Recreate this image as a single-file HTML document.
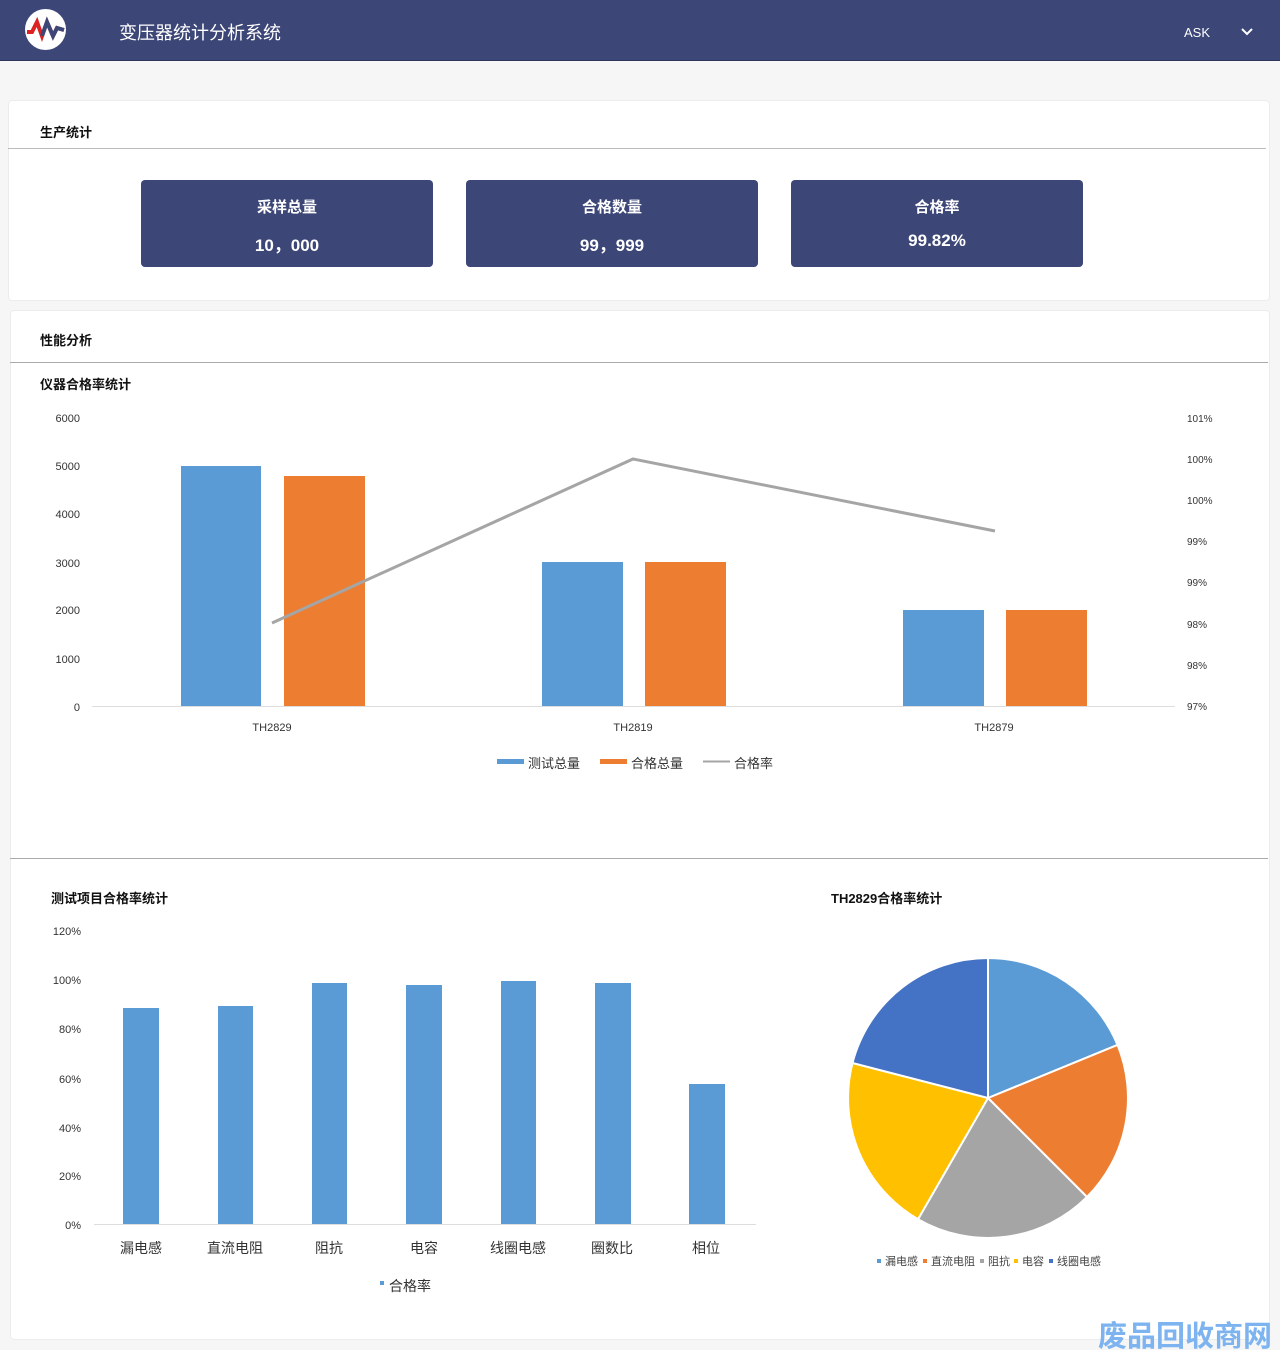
<!DOCTYPE html>
<html><head><meta charset="utf-8"><style>
body{margin:0;width:1280px;height:1350px;background:#f6f6f6;font-family:"Liberation Sans","Noto Sans CJK SC",sans-serif;position:relative;overflow:hidden}
.hdr{position:absolute;left:0;top:0;width:1280px;height:60px;background:#3c4677;border-bottom:1px solid #2e365e}
.card{position:absolute;background:#fff;border:1px solid #ececec;border-radius:4px}
.t{position:absolute;font-size:13px;font-weight:bold;color:#111}
.box{position:absolute;top:180px;width:292px;height:87px;background:#3c4677;border-radius:4px;color:#fff;text-align:center;font-weight:bold}
.box .a{margin-top:16px;font-size:15px}.box .b{margin-top:14px;font-size:17px}
svg text{font-family:"Liberation Sans","Noto Sans CJK SC",sans-serif}
</style></head><body>
<div class="hdr">
<svg style="position:absolute;left:24px;top:9px" width="43" height="41"><circle cx="21.5" cy="20.5" r="20.5" fill="#fff"/><polyline points="3,23 8,23 13,13 18,27 23,13 29,27 33,19 40,21" fill="none" stroke="#d22" stroke-width="4"/><polyline points="18,27 23,13 29,27 33,19 40,21" fill="none" stroke="#3c4677" stroke-width="4"/></svg>
<div style="position:absolute;left:119px;top:19px;color:#fff;font-size:18px">变压器统计分析系统</div>
<div style="position:absolute;left:1184px;top:25px;color:#fff;font-size:13px">ASK</div>
<svg style="position:absolute;left:1240px;top:27px" width="14" height="10"><polyline points="2,2 7,7 12,2" fill="none" stroke="#fff" stroke-width="2"/></svg>
</div>
<div class="card" style="left:8px;top:100px;width:1260px;height:199px"></div>
<div style="position:absolute;left:8px;top:148px;width:1258px;height:1px;background:#bbb"></div>
<div class="t" style="left:40px;top:122px">生产统计</div>
<div class="box" style="left:141px"><div class="a">采样总量</div><div class="b">10，000</div></div>
<div class="box" style="left:466px"><div class="a">合格数量</div><div class="b">99，999</div></div>
<div class="box" style="left:791px"><div class="a">合格率</div><div class="b">99.82%</div></div>
<div class="card" style="left:10px;top:310px;width:1258px;height:1028px"></div>
<div style="position:absolute;left:10px;top:362px;width:1258px;height:1px;background:#aaa"></div>
<div style="position:absolute;left:10px;top:858px;width:1258px;height:1px;background:#aaa"></div>
<div class="t" style="left:40px;top:330px">性能分析</div>
<div class="t" style="left:40px;top:374px">仪器合格率统计</div>
<div class="t" style="left:51px;top:888px">测试项目合格率统计</div>
<div class="t" style="left:831px;top:888px">TH2829合格率统计</div>
<svg style="position:absolute;left:0;top:0" width="1280" height="1350">
<g font-size="11" fill="#333" text-anchor="end">
<text x="80" y="422">6000</text><text x="80" y="470">5000</text><text x="80" y="518">4000</text><text x="80" y="567">3000</text><text x="80" y="614">2000</text><text x="80" y="663">1000</text><text x="80" y="711">0</text>
</g>
<g font-size="10" fill="#333">
<text x="1187" y="422">101%</text><text x="1187" y="463">100%</text><text x="1187" y="504">100%</text><text x="1187" y="545">99%</text><text x="1187" y="586">99%</text><text x="1187" y="628">98%</text><text x="1187" y="669">98%</text><text x="1187" y="710">97%</text>
</g>
<line x1="92" y1="706.5" x2="1175" y2="706.5" stroke="#ddd"/>
<rect x="181" y="466" width="80" height="240" fill="#5b9bd5"/><rect x="284" y="476" width="81" height="230" fill="#ed7d31"/>
<rect x="542" y="562" width="81" height="144" fill="#5b9bd5"/><rect x="645" y="562" width="81" height="144" fill="#ed7d31"/>
<rect x="903" y="610" width="81" height="96" fill="#5b9bd5"/><rect x="1006" y="610" width="81" height="96" fill="#ed7d31"/>
<polyline points="272,623 633,459 995,531" fill="none" stroke="#a5a5a5" stroke-width="3"/>
<g font-size="11" fill="#333" text-anchor="middle"><text x="272" y="731">TH2829</text><text x="633" y="731">TH2819</text><text x="994" y="731">TH2879</text></g>
<rect x="497" y="759" width="27" height="5" fill="#5b9bd5"/><text x="528" y="768" font-size="13" fill="#333">测试总量</text>
<rect x="600" y="759" width="27" height="5" fill="#ed7d31"/><text x="631" y="768" font-size="13" fill="#333">合格总量</text>
<line x1="703" y1="761.5" x2="730" y2="761.5" stroke="#a5a5a5" stroke-width="2"/><text x="734" y="768" font-size="13" fill="#333">合格率</text>
<g font-size="11" fill="#333" text-anchor="end">
<text x="81" y="935">120%</text><text x="81" y="984">100%</text><text x="81" y="1033">80%</text><text x="81" y="1083">60%</text><text x="81" y="1132">40%</text><text x="81" y="1180">20%</text><text x="81" y="1229">0%</text>
</g>
<line x1="94" y1="1224.5" x2="756" y2="1224.5" stroke="#ddd"/>
<g fill="#5b9bd5">
<rect x="123" y="1008" width="36" height="216"/><rect x="218" y="1006" width="35" height="218"/><rect x="312" y="983" width="35" height="241"/><rect x="406" y="985" width="36" height="239"/><rect x="501" y="981" width="35" height="243"/><rect x="595" y="983" width="36" height="241"/><rect x="689" y="1084" width="36" height="140"/>
</g>
<g font-size="14" fill="#333" text-anchor="middle">
<text x="141" y="1253">漏电感</text><text x="235" y="1253">直流电阻</text><text x="329" y="1253">阻抗</text><text x="424" y="1253">电容</text><text x="518" y="1253">线圈电感</text><text x="612" y="1253">圈数比</text><text x="706" y="1253">相位</text>
</g>
<rect x="380" y="1281" width="4" height="4" fill="#5b9bd5"/><text x="389" y="1291" font-size="14" fill="#333">合格率</text>
<g stroke="#fff" stroke-width="2">
<path d="M988,1098 L988,958 A140,140 0 0 1 1117.5,1044.9Z" fill="#5b9bd5"/>
<path d="M988,1098 L1117.5,1044.9 A140,140 0 0 1 1087,1197Z" fill="#ed7d31"/>
<path d="M988,1098 L1087,1197 A140,140 0 0 1 918,1219.2Z" fill="#a5a5a5"/>
<path d="M988,1098 L918,1219.2 A140,140 0 0 1 852.5,1063Z" fill="#ffc000"/>
<path d="M988,1098 L852.5,1063 A140,140 0 0 1 988,958Z" fill="#4472c4"/>
</g>
<g font-size="11" fill="#444">
<rect x="877" y="1259" width="4" height="4" fill="#5b9bd5"/><text x="885" y="1265">漏电感</text>
<rect x="923" y="1259" width="4" height="4" fill="#ed7d31"/><text x="931" y="1265">直流电阻</text>
<rect x="980" y="1259" width="4" height="4" fill="#a5a5a5"/><text x="988" y="1265">阻抗</text>
<rect x="1014" y="1259" width="4" height="4" fill="#ffc000"/><text x="1022" y="1265">电容</text>
<rect x="1049" y="1259" width="4" height="4" fill="#4472c4"/><text x="1057" y="1265">线圈电感</text>
</g>
<text x="1098" y="1346" font-size="29" font-weight="bold" fill="#7db4f0">废品回收商网</text>
</svg>
</body></html>
